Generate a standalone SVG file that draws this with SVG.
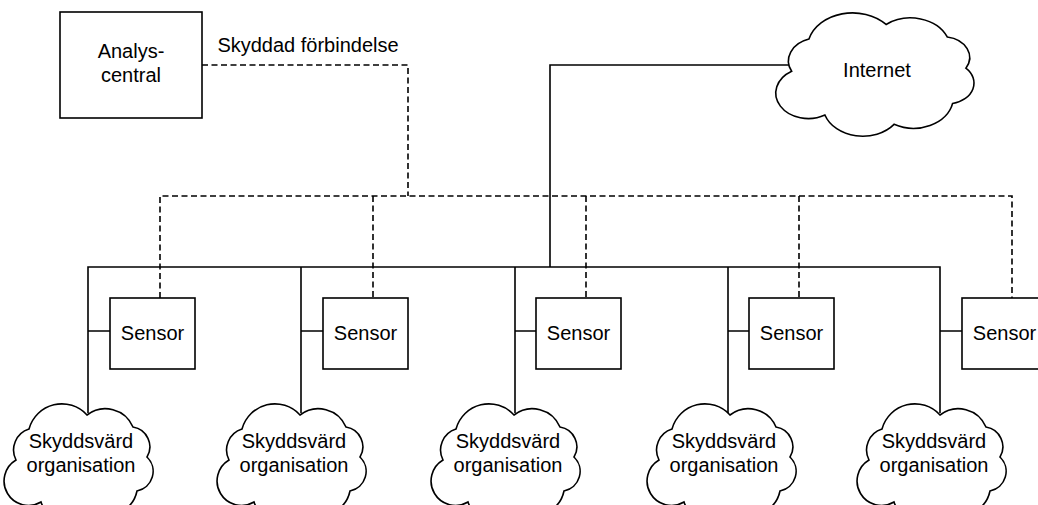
<svg xmlns="http://www.w3.org/2000/svg" width="1038" height="505" viewBox="0 0 1038 505">
<style>
.box{fill:#fff;stroke:#000;stroke-width:1.6}
.cl{fill:#fff;stroke:#000;stroke-width:1.6}
.ln{fill:none;stroke:#000;stroke-width:1.6}
.dash{fill:none;stroke:#000;stroke-width:1.6;stroke-dasharray:6 3.5}
text{font-family:"Liberation Sans",Arial,sans-serif;font-size:20px;fill:#000;text-anchor:middle}
</style>
<defs>
<path id="cloud" vector-effect="non-scaling-stroke" d="M5,57 A22,22 0 0 1 18,26 A34,34 0 0 1 76,12 A30,30 0 0 1 122,24 A20,20 0 0 1 136,54 A20,20 0 0 1 126,88 A30,30 0 0 1 82,108 A30,30 0 0 1 30,99 A24,24 0 0 1 5,57 Z"/>
</defs>
<g id="connectors">
<path class="dash" d="M202,65 H408 V196"/>
<path class="dash" d="M160,298 V196 H1012 V298"/>
<path class="dash" d="M373,196 V298 M586,196 V298 M799,196 V298"/>
<path class="ln" d="M550,267 V65 H790"/>
<path class="ln" d="M88,413 V267 H940 V413"/>
<path class="ln" d="M301,267 V413 M515,267 V413 M728,267 V413"/>
<path class="ln" d="M88,331 H110 M301,331 H323 M515,331 H536 M728,331 H749 M940,331 H962"/>
</g>
<g id="analyscentral">
<rect class="box" x="60" y="12" width="142" height="106"/>
<text x="131" y="58">Analys-</text>
<text x="131" y="82">central</text>
</g>
<text x="308" y="52">Skyddad förbindelse</text>
<g id="internet">
<use href="#cloud" class="cl" transform="translate(785,12) scale(1.33,1.04)"/>
<text x="877" y="77">Internet</text>
</g>
<g id="sensor1"><rect class="box" x="110" y="298" width="85" height="71"/><text x="152.5" y="340">Sensor</text></g>
<g id="sensor2"><rect class="box" x="323" y="298" width="85" height="71"/><text x="365.5" y="340">Sensor</text></g>
<g id="sensor3"><rect class="box" x="536" y="298" width="85" height="71"/><text x="578.5" y="340">Sensor</text></g>
<g id="sensor4"><rect class="box" x="749" y="298" width="85" height="71"/><text x="791.5" y="340">Sensor</text></g>
<g id="sensor5"><rect class="box" x="962" y="298" width="85" height="71"/><text x="1004.5" y="340">Sensor</text></g>
<g id="org1"><use href="#cloud" class="cl" transform="translate(11,403)"/><text x="81" y="448">Skyddsvärd</text><text x="81" y="472">organisation</text></g>
<g id="org2"><use href="#cloud" class="cl" transform="translate(224,403)"/><text x="294" y="448">Skyddsvärd</text><text x="294" y="472">organisation</text></g>
<g id="org3"><use href="#cloud" class="cl" transform="translate(438,403)"/><text x="508" y="448">Skyddsvärd</text><text x="508" y="472">organisation</text></g>
<g id="org4"><use href="#cloud" class="cl" transform="translate(654,403)"/><text x="724" y="448">Skyddsvärd</text><text x="724" y="472">organisation</text></g>
<g id="org5"><use href="#cloud" class="cl" transform="translate(864,403)"/><text x="934" y="448">Skyddsvärd</text><text x="934" y="472">organisation</text></g>
</svg>
